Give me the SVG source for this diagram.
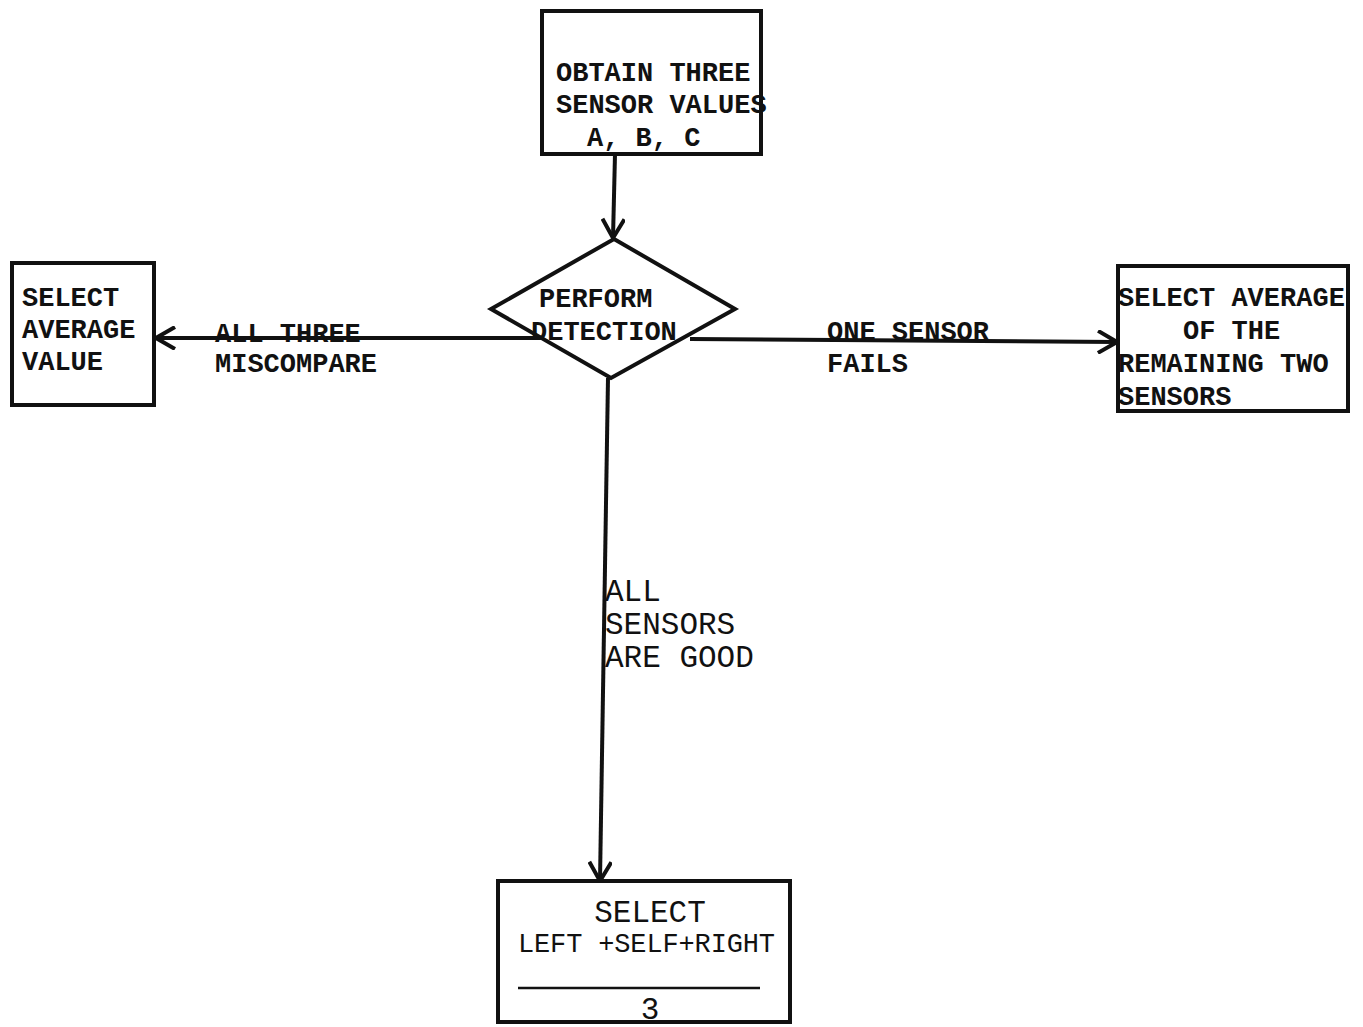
<svg xmlns="http://www.w3.org/2000/svg" width="1363" height="1027" viewBox="0 0 1363 1027">
<defs>
<style>
.box{fill:#fff;stroke:#111;stroke-width:4}
.ln{fill:none;stroke:#111;stroke-width:4}
.t{font-family:"Liberation Mono","Courier New",monospace;font-size:27px;font-weight:bold;fill:#111}
.s{font-family:"Liberation Mono","Courier New",monospace;font-size:31px;fill:#111}
.n{font-weight:normal}
</style>
<marker id="v" viewBox="0 0 24 24" refX="22" refY="12" markerWidth="24" markerHeight="24" markerUnits="userSpaceOnUse" orient="auto">
<path d="M3,1 L22,12 L3,23" fill="none" stroke="#111" stroke-width="4"/>
</marker>
</defs>
<rect width="1363" height="1027" fill="#fff"/>
<g id="connectors">
<line class="ln" x1="615" y1="154" x2="613" y2="238" marker-end="url(#v)"/>
<line class="ln" x1="540" y1="338" x2="156" y2="338" marker-end="url(#v)"/>
<line class="ln" x1="690" y1="339" x2="1117" y2="342" marker-end="url(#v)"/>
<line class="ln" x1="608" y1="378" x2="600" y2="881" marker-end="url(#v)"/>
<text class="t" x="215" y="342">ALL THREE</text>
<text class="t" x="215" y="372">MISCOMPARE</text>
<text class="t" x="827" y="340">ONE SENSOR</text>
<text class="t" x="827" y="372">FAILS</text>
<text class="s" x="605" y="601">ALL</text>
<text class="s" x="605" y="634">SENSORS</text>
<text class="s" x="605" y="667">ARE GOOD</text>
</g>
<g id="obtain">
<rect class="box" x="542" y="11" width="219" height="143"/>
<text class="t" x="556" y="81">OBTAIN THREE</text>
<text class="t" x="556" y="113">SENSOR VALUES</text>
<text class="t" x="587" y="146">A, B, C</text>
</g>
<g id="detect">
<polygon class="box" points="614,239 735,309 611,378 491,309"/>
<text class="t" x="539" y="307">PERFORM</text>
<text class="t" x="531" y="340">DETECTION</text>
</g>
<g id="selavg">
<rect class="box" x="12" y="263" width="142" height="142"/>
<text class="t" x="22" y="306">SELECT</text>
<text class="t" x="22" y="338">AVERAGE</text>
<text class="t" x="22" y="370">VALUE</text>
</g>
<g id="selrem">
<rect class="box" x="1118" y="266" width="230" height="145"/>
<text class="t" x="1118" y="306">SELECT AVERAGE</text>
<text class="t" x="1183" y="339">OF THE</text>
<text class="t" x="1118" y="372">REMAINING TWO</text>
<text class="t" x="1118" y="405">SENSORS</text>
</g>
<g id="selgood">
<rect class="box" x="498" y="881" width="292" height="141"/>
<text class="s" x="650" y="922" text-anchor="middle">SELECT</text>
<text class="t n" x="518" y="952" textLength="257">LEFT +SELF+RIGHT</text>
<line x1="518" y1="988" x2="760" y2="988" stroke="#111" stroke-width="2.5"/>
<text class="s" x="650" y="1019" text-anchor="middle">3</text>
</g>
</svg>
